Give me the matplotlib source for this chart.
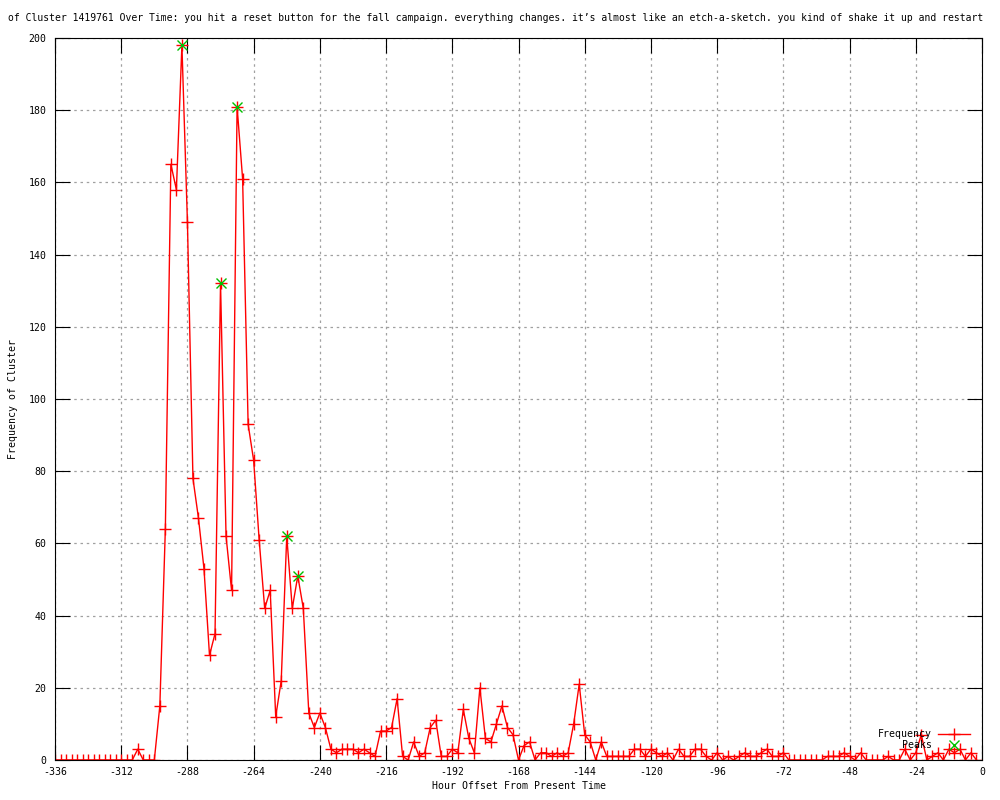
"""Frecuencia del cluster 1419761 en el tiempo (estilo gnuplot)."""
import matplotlib
matplotlib.use("Agg")
import matplotlib.pyplot as plt

# --- datos ---
hours = list(range(-336, 0, 2))
freq = [
    0, 0, 0, 0, 0, 0, 0, 0, 0, 0, 0, 0, 0, 0, 0,      # -336 .. -308
    3, 0, 0, 0, 15, 64, 165, 158, 198, 149,           # -306 .. -288
    78, 67, 53, 29, 35, 132, 62, 47, 181, 161,        # -286 .. -268
    93, 83, 61, 42, 47, 12, 22, 62, 42, 51,           # -266 .. -248
    42, 13, 9, 13, 9, 3, 2, 3, 3, 3,                  # -246 .. -228
    2, 3, 2, 1, 8, 8, 9, 17, 1, 0,                    # -226 .. -208
    5, 1, 2, 9, 11, 1, 1, 3, 2, 14,                   # -206 .. -188
    6, 2, 20, 6, 5, 10, 15, 9, 7, 0,                  # -186 .. -168
    4, 5, 0, 2, 2, 1, 2, 1, 2, 10,                    # -166 .. -148
    21, 7, 5, 0, 5, 1, 1, 1, 1, 1,                    # -146 .. -128
    3, 3, 1, 3, 2, 1, 2, 0, 3, 1,                     # -126 .. -108
    1, 3, 3, 1, 0, 2, 0, 1, 0, 1,                     # -106 .. -88
    2, 1, 1, 2, 3, 1, 1, 2, 0, 0,                     # -86 .. -68
    0, 0, 0, 0, 0, 1, 1, 1, 2, 1,                     # -66 .. -48
    0, 2, 0, 0, 0, 0, 1, 0, 0, 3,                     # -46 .. -28
    0, 2, 7, 0, 1, 2, 0, 3, 2, 3,                     # -26 .. -8
    0, 2, 0,                                          # -6 .. -2
]
peak_hours = [-290, -276, -270, -252, -248]
peak_freq = [198, 132, 181, 62, 51]

x_ticks = list(range(-336, 1, 24))
y_ticks = list(range(0, 201, 20))

title = ("of Cluster 1419761 Over Time: you hit a reset button for the fall campaign. "
         "everything changes. it\u2019s almost like an etch-a-sketch. "
         "you kind of shake it up and restart")

plt.rcParams["font.family"] = ["DejaVu Sans Mono"]
plt.rcParams["font.size"] = 7.1
plt.rcParams["axes.unicode_minus"] = False

fig = plt.figure(figsize=(10, 8), dpi=100)
ax = fig.add_axes([0.055, 0.05, 0.927, 0.9025])

ax.plot(hours, freq, color="red", lw=1.0, marker="+", ms=8, mew=1.0,
        label="Frequency")
ax.plot(peak_hours, peak_freq, ls="none", color="#00c000", marker="x", ms=6.5,
        mew=1.0, label="Peaks")

ax.set_xlim(-336, 0)
ax.set_ylim(0, 200)
ax.set_xticks(x_ticks)
ax.set_yticks(y_ticks)
ax.grid(True, color="#a0a0a0", ls=(0, (2, 3)), lw=0.9)
ax.tick_params(direction="in", length=11, width=0.8, top=True, right=True,
               colors="black")
ax.tick_params(axis="x", pad=5)
ax.tick_params(axis="y", pad=6)
for s in ax.spines.values():
    s.set_linewidth(0.8)

ax.set_xlabel("Hour Offset From Present Time", labelpad=3)
ax.set_ylabel("Frequency of Cluster", labelpad=8)
fig.text(0.008, 0.977, title, ha="left", va="center", fontsize=7.0)

ax.legend(loc="lower right", bbox_to_anchor=(0.993, 0.005), frameon=False,
          markerfirst=False, handlelength=3.2, handletextpad=0.6,
          labelspacing=0.1, borderaxespad=0.2)

fig.savefig("out.png", dpi=100)
